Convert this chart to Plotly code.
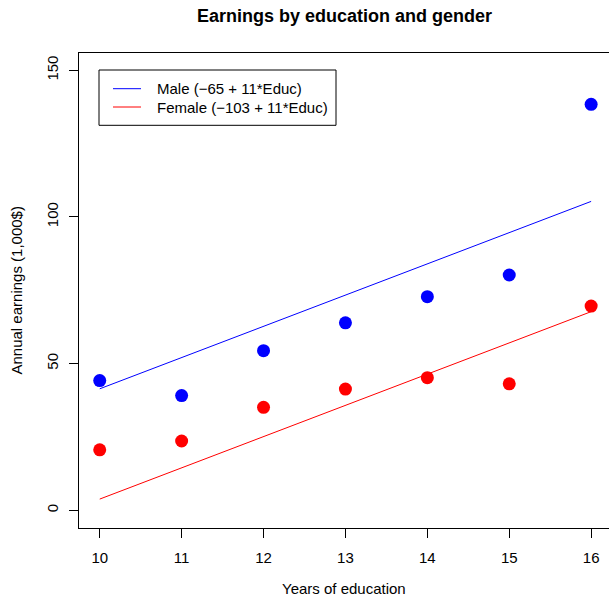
import plotly.graph_objects as go

# Mean annual earnings (1,000$) by years of education
educ_years = [10, 11, 12, 13, 14, 15, 16]
male_earnings = [44.2, 39.1, 54.4, 63.9, 72.8, 80.2, 138.4]
female_earnings = [20.6, 23.6, 35.1, 41.3, 45.2, 43.1, 69.6]

# Fitted lines: common slope, separate intercepts
slope = 10.65
male_intercept = -65.1
female_intercept = -102.7
fit_x = [10, 16]

legend_labels = ["Male (\u221265 + 11*Educ)", "Female (\u2212103 + 11*Educ)"]
x_ticks = [10, 11, 12, 13, 14, 15, 16]
y_ticks = [0, 50, 100, 150]

W, H = 609, 600
L, R, T, B = 79, 0, 53, 72
PW, PH = W - L - R, H - T - B
FONT = "Liberation Sans, Arial, Helvetica, sans-serif"
BLUE, RED = "#0000FF", "#FF0000"


def px(x):
    return (x - L) / PW


def py(y):
    return 1 - (y - T) / PH


fig = go.Figure()

fig.add_trace(go.Scatter(
    x=fit_x, y=[male_intercept + slope * v for v in fit_x],
    mode="lines", line=dict(color=BLUE, width=1), name=legend_labels[0],
))
fig.add_trace(go.Scatter(
    x=fit_x, y=[female_intercept + slope * v for v in fit_x],
    mode="lines", line=dict(color=RED, width=1), name=legend_labels[1],
))
fig.add_trace(go.Scatter(
    x=educ_years, y=male_earnings, mode="markers",
    marker=dict(color=BLUE, size=13, line=dict(width=0)), name="Male",
))
fig.add_trace(go.Scatter(
    x=educ_years, y=female_earnings, mode="markers",
    marker=dict(color=RED, size=13, line=dict(width=0)), name="Female",
))

# Legend box with line samples
shapes = [dict(type="rect", xref="paper", yref="paper",
               x0=px(99), x1=px(336), y0=py(125.3), y1=py(70),
               line=dict(color="black", width=1), fillcolor="white", layer="below")]
annotations = []
for label, color, yy in [(legend_labels[0], BLUE, 88.7), (legend_labels[1], RED, 107)]:
    shapes.append(dict(type="line", xref="paper", yref="paper",
                       x0=px(113), x1=px(141), y0=py(yy), y1=py(yy),
                       line=dict(color=color, width=1)))
    annotations.append(dict(xref="paper", yref="paper", x=px(155), y=py(yy),
                            xanchor="left", yanchor="middle", showarrow=False,
                            text=label, font=dict(size=15, color="black", family=FONT)))

annotations += [
    dict(xref="paper", yref="paper", x=0.5, y=1, yshift=37, xanchor="center",
         yanchor="middle", showarrow=False, text="<b>Earnings by education and gender</b>",
         font=dict(size=18, color="black", family=FONT)),
    dict(xref="paper", yref="paper", x=0.5, y=0, yshift=-71, xanchor="center",
         yanchor="bottom", showarrow=False, text="Years of education",
         font=dict(size=15, color="black", family=FONT)),
    dict(xref="paper", yref="paper", x=0, y=0.5, xshift=-63, xanchor="center",
         yanchor="middle", showarrow=False, text="Annual earnings (1,000$)", textangle=-90,
         font=dict(size=15, color="black", family=FONT)),
]

fig.update_layout(
    width=W, height=H,
    margin=dict(l=L, r=R, t=T, b=B, pad=0),
    paper_bgcolor="white", plot_bgcolor="white",
    showlegend=False,
    font=dict(family=FONT, size=15, color="black"),
    shapes=shapes, annotations=annotations,
    xaxis=dict(range=[9.747, 16.218], tickvals=x_ticks, ticks="outside", ticklen=9,
               tickcolor="black", showline=True, linecolor="black", linewidth=1,
               mirror=True, showgrid=False, zeroline=False, ticklabelstandoff=7,
               tickfont=dict(size=15, family=FONT, color="black")),
    yaxis=dict(range=[-6.06, 155.9], tickvals=y_ticks, ticks="outside", ticklen=9,
               tickcolor="black", showline=True, linecolor="black", linewidth=1,
               showgrid=False, zeroline=False, tickangle=-90, ticklabelstandoff=5,
               tickfont=dict(size=15, family=FONT, color="black")),
)

fig.write_html("out.html")
